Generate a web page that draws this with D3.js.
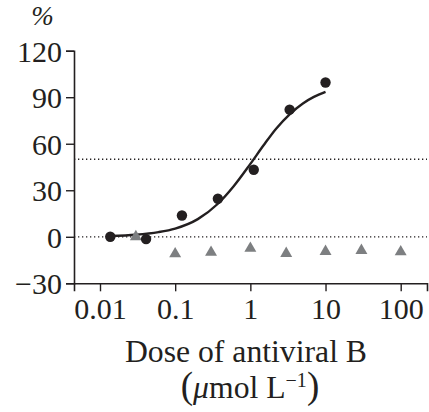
<!DOCTYPE html>
<html><head><meta charset="utf-8">
<script src="https://cdn.jsdelivr.net/npm/d3@7"></script>
<style>body{margin:0;background:#fff}svg{display:block}text{font-family:"Liberation Serif","DejaVu Serif",serif;fill:#231f20}</style>
</head><body>
<svg id="c" width="429" height="412"></svg>
<script>
// Data
const circleDose = [0.0137, 0.041, 0.123, 0.37, 1.11, 3.33, 10];
const circleValue = [0, -1.5, 13.7, 24.5, 43.2, 82, 99.5];
const triDose = [0.03, 0.1, 0.3, 1, 3, 10, 30, 100];
const triValue = [0, -11, -10, -7.5, -10.8, -9.5, -8.8, -9.7];
const curveDose = [0.0137, 0.03, 0.06, 0.1, 0.2, 0.37, 0.6, 1, 1.5, 2.2, 3.33, 5, 7, 10];
const curveValue = [0.5, 1.3, 3.0, 5.3, 11.4, 21.3, 32.6, 47, 59, 69.7, 79, 86, 90.2, 93.5];
const yTicks = [-30, 0, 30, 60, 90, 120];
const xTicks = [0.01, 0.1, 1, 10, 100];
const refLines = [0, 50];

const svg = d3.select("#c");
const x = d3.scaleLog().domain([0.01, 100]).range([100, 400.7]);
const y = d3.scaleLinear().domain([-30, 120]).range([283.3, 50.7]);
const xLeft = 74, xRight = 427;

// reference dotted lines
svg.selectAll("line.ref").data(refLines).join("line")
  .attr("x1", xLeft).attr("x2", xRight)
  .attr("y1", d => y(d)).attr("y2", d => y(d))
  .attr("stroke", "#231f20").attr("stroke-width", 1.3)
  .attr("stroke-dasharray", "1.3,2.7");

// axes
const xAxisScale = x.copy().domain([x.invert(xLeft), x.invert(xRight)]).range([xLeft, xRight]);
const gx = svg.append("g").attr("transform", `translate(0,${y(-30)})`)
  .call(d3.axisBottom(xAxisScale).tickValues(xTicks).tickFormat(d => String(d)).tickSizeOuter(0).tickSize(8).tickPadding(6));
const gy = svg.append("g").attr("transform", `translate(${xLeft},0)`)
  .call(d3.axisLeft(y).tickValues(yTicks).tickFormat(d3.format("d")).tickSizeOuter(0).tickSize(8).tickPadding(4));
[gx, gy].forEach(g => {
  g.attr("font-family", null).attr("font-size", null);
  g.select(".domain").attr("stroke", "#231f20").attr("stroke-width", 1.6);
  g.selectAll(".tick line").attr("stroke", "#231f20").attr("stroke-width", 1.4);
  g.selectAll(".tick text").style("font-family", "'Liberation Serif', serif").style("font-size", "30px").attr("fill", "#231f20");
});
gx.selectAll(".tick text").attr("y", 14).attr("dy", "0.71em");
gy.selectAll(".tick text").attr("dy", "0.35em");

// fitted curve
const line = d3.line().x(d => x(d[0])).y(d => y(d[1])).curve(d3.curveMonotoneX);
svg.append("path").datum(curveDose.map((d, i) => [d, curveValue[i]]))
  .attr("d", line).attr("fill", "none").attr("stroke", "#231f20").attr("stroke-width", 2.4);

// triangles
const tri = d3.symbol().type(d3.symbolTriangle).size(62);
svg.selectAll("path.tri").data(triDose.map((d, i) => [d, triValue[i]])).join("path")
  .attr("transform", d => `translate(${x(d[0])},${y(d[1])})`)
  .attr("d", tri).attr("fill", "#7d7f81");

// circles
svg.selectAll("circle.pt").data(circleDose.map((d, i) => [d, circleValue[i]])).join("circle")
  .attr("cx", d => x(d[0])).attr("cy", d => y(d[1])).attr("r", 5.2).attr("fill", "#231f20");

// titles
svg.append("text").attr("x", 42.5).attr("y", 25).attr("text-anchor", "middle")
  .style("font-size", "27px").attr("font-style", "italic").text("%");
svg.append("text").attr("x", 246).attr("y", 362).attr("text-anchor", "middle")
  .style("font-size", "31.7px").text("Dose of antiviral B");
const t2 = svg.append("text").attr("x", 250).attr("y", 398).attr("text-anchor", "middle").style("font-size", "31.7px");
t2.append("tspan").style("font-size", "37px").text("(");
t2.append("tspan").attr("font-style", "italic").text("μ");
t2.append("tspan").text("mol L");
t2.append("tspan").style("font-size", "20px").attr("dy", -11).text("−1");
t2.append("tspan").style("font-size", "37px").attr("dy", 11).text(")");
</script>
</body></html>
